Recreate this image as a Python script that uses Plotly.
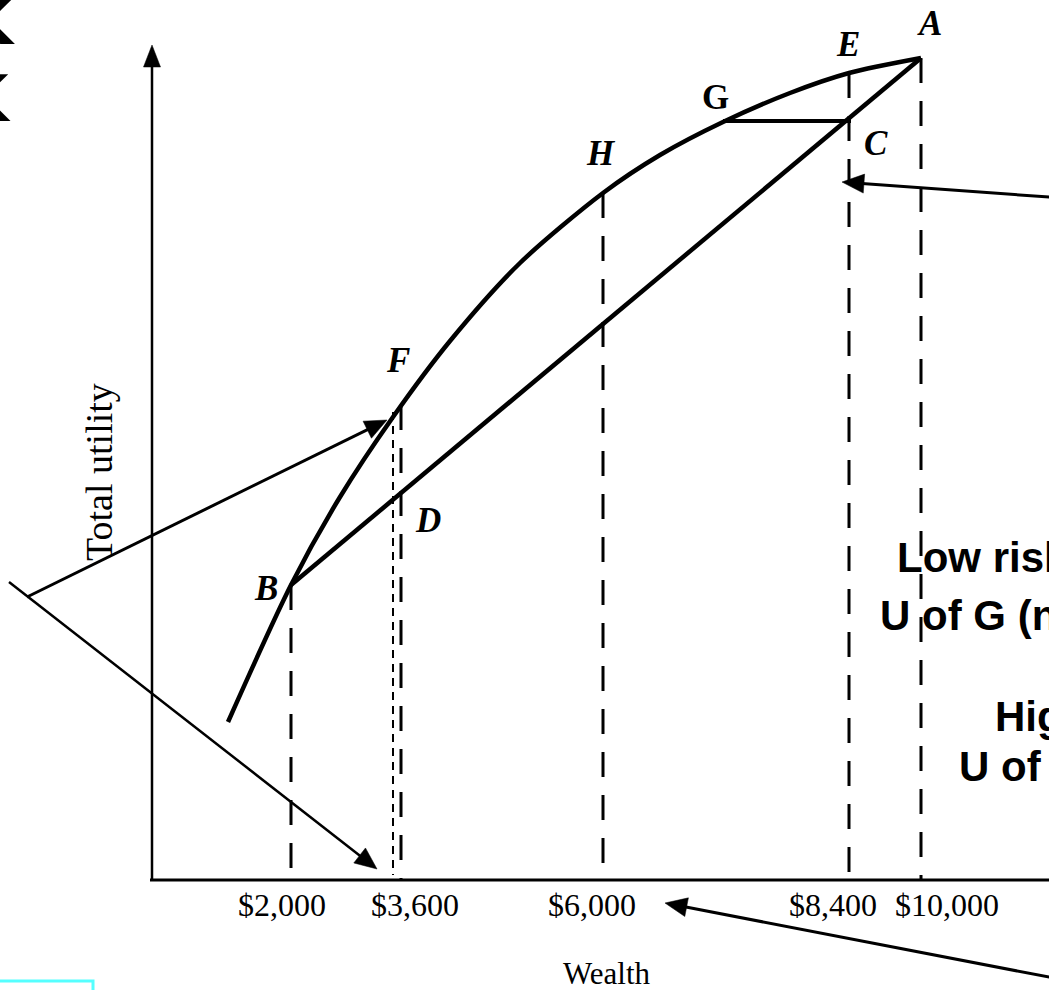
import math
import plotly.graph_objects as go

# ---------------- data (diagram units: x = horizontal position, u = utility height above wealth axis)
wealth_labels = ["$2,000", "$3,600", "$6,000", "$8,400", "$10,000"]
wealth_label_x = [282, 415, 592, 833, 947]
drop_x = [291, 401, 603, 849, 921]          # long-dashed drop lines (B, F/D, H, E/C, A)
drop_top = [295, 475, 687, 807, 822]
fair_x = [393]                              # short-dashed line
fair_top = [468]

curve_x = [228, 291, 340, 393, 450, 520, 603, 660, 723, 790, 849, 921]   # total utility curve
curve_u = [158, 295, 383, 463, 539, 617, 687, 725, 758, 787, 807, 822]

chord_x = [291, 921]                        # B -> A
chord_u = [295, 822]

gc_x = [723, 851]                           # G -> C
gc_u = [759, 759]

point_names = ["<i>A</i>", "<i>E</i>", "<i>C</i>", "G", "<i>H</i>", "<i>F</i>", "<i>D</i>", "<i>B</i>"]
point_x = [929, 848, 876, 715, 601, 398, 428, 266]
point_u = [857, 836, 737, 783, 727, 520, 360, 292]

arrow_tail_x = [27, 9, 1090, 1090]
arrow_tail_u = [283, 298, 680, -105]
arrow_tip_x = [387, 377, 842, 665]
arrow_tip_u = [460, 11, 698, -23]
arrow_width = [3, 2.5, 3, 3]

note_text = ["Low risk premium", "U of G (no risk)", "High risk premium", "U of H (risk)"]
note_x = [895, 878, 993, 957]
note_u = [323, 265, 164, 114]

SERIF = "Liberation Serif, Times New Roman, serif"
SANS = "Liberation Sans, Arial, sans-serif"

fig = go.Figure()

def head_path(x0, y0, x1, y1, L=22, Wd=18):
    dx, dy = x1 - x0, y1 - y0
    n = math.hypot(dx, dy)
    ux, uy = dx / n, dy / n
    bx, by = x1 - ux * L, y1 - uy * L
    px, py = -uy * Wd / 2, ux * Wd / 2
    return (f"M {x1},{y1} L {bx+px},{by+py} L {bx-px},{by-py} Z", bx + ux * 2, by + uy * 2)

shapes = []

# axes
shapes.append(dict(type="line", x0=150, y0=0, x1=1070, y1=0, line=dict(color="black", width=3)))
p, bx, by = head_path(152, 0, 152, 835, L=22, Wd=17)
shapes.append(dict(type="line", x0=152, y0=0, x1=152, y1=by, line=dict(color="black", width=2.5)))
shapes.append(dict(type="path", path=p, fillcolor="black", line=dict(color="black", width=0.5)))

# dashed drops
for x, t in zip(drop_x, drop_top):
    shapes.append(dict(type="line", x0=x, y0=t, x1=x, y1=0,
                       line=dict(color="black", width=3, dash="25px,18px")))
for x, t in zip(fair_x, fair_top):
    shapes.append(dict(type="line", x0=x, y0=t, x1=x, y1=5,
                       line=dict(color="black", width=2, dash="8px,6px")))

# arrows
for tx, tu, hx, hu, w in zip(arrow_tail_x, arrow_tail_u, arrow_tip_x, arrow_tip_u, arrow_width):
    p, bx, by = head_path(tx, tu, hx, hu, L=22, Wd=19)
    shapes.append(dict(type="line", x0=tx, y0=tu, x1=bx, y1=by, line=dict(color="black", width=w)))
    shapes.append(dict(type="path", path=p, fillcolor="black", line=dict(color="black", width=0.5)))

# cyan box fragment
shapes.append(dict(type="rect", x0=-10, y0=-101, x1=93, y1=-130, line=dict(color="#55ffff", width=3)))

# curve, chord, G-C
fig.add_trace(go.Scatter(x=curve_x, y=curve_u, mode="lines",
                         line=dict(color="black", width=4.5, shape="spline", smoothing=0.8), hoverinfo="skip"))
fig.add_trace(go.Scatter(x=chord_x, y=chord_u, mode="lines", line=dict(color="black", width=4.5), hoverinfo="skip"))
fig.add_trace(go.Scatter(x=gc_x, y=gc_u, mode="lines", line=dict(color="black", width=4), hoverinfo="skip"))

ann = []
for name, x, u in zip(point_names, point_x, point_u):
    ann.append(dict(x=x, y=u, text=f"<b>{name}</b>", showarrow=False, xanchor="center", yanchor="middle",
                    font=dict(family=SERIF, size=35, color="black")))
for lab, x in zip(wealth_labels, wealth_label_x):
    ann.append(dict(x=x, y=-25, text=lab, showarrow=False, xanchor="center", yanchor="middle",
                    font=dict(family=SERIF, size=32, color="black")))
ann.append(dict(x=607, y=-93, text="Wealth", showarrow=False, xanchor="center", yanchor="middle",
                font=dict(family=SERIF, size=31, color="black")))
ann.append(dict(x=99, y=408, text="Total utility", showarrow=False, textangle=-90, xanchor="center", yanchor="middle",
                font=dict(family=SERIF, size=38, color="black")))
for t, x, u in zip(note_text, note_x, note_u):
    ann.append(dict(x=x, y=u, text=f"<b>{t}</b>", showarrow=False, xanchor="left", yanchor="middle",
                    font=dict(family=SANS, size=42, color="black")))
# clipped letters at top-left edge
ann.append(dict(x=17, y=858, text="<b>K</b>", showarrow=False, xanchor="right", yanchor="middle",
                font=dict(family="DejaVu Sans, sans-serif", size=62, color="black")))
ann.append(dict(x=13, y=781, text="<b>K</b>", showarrow=False, xanchor="right", yanchor="middle",
                font=dict(family="DejaVu Sans, sans-serif", size=64, color="black")))

fig.update_layout(
    width=1049, height=990, margin=dict(l=0, r=0, t=0, b=0),
    paper_bgcolor="white", plot_bgcolor="white", showlegend=False,
    xaxis=dict(range=[0, 1049], visible=False, fixedrange=True),
    yaxis=dict(range=[-110, 880], visible=False, fixedrange=True),
    shapes=shapes, annotations=ann,
)
fig.write_html("out.html", config={"displayModeBar": False},
               post_script="document.body.style.margin='0';document.body.style.overflow='hidden';")
